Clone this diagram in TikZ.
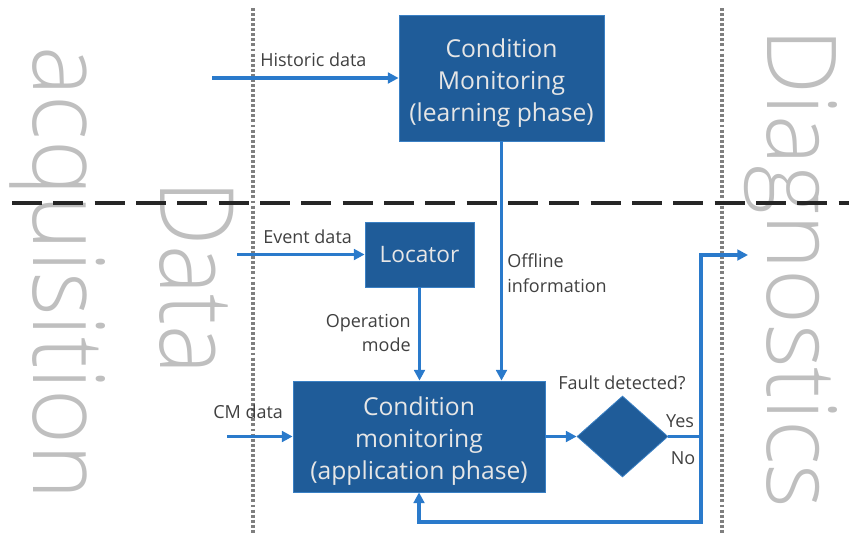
\documentclass[tikz,border=0pt]{standalone}
\usepackage{fontspec}
\setmainfont{Open Sans}
% thin face for the large section titles, with fallbacks
\IfFontExistsTF{Open Sans Light}{\newfontfamily\thinfont{Open Sans Light}}{%
  \IfFontExistsTF{Lato Light}{\newfontfamily\thinfont{Lato Light}}{%
    \IfFontExistsTF{Fira Sans Light}{\newfontfamily\thinfont{Fira Sans Light}}{%
      \IfFontExistsTF{Noto Sans Light}{\newfontfamily\thinfont{Noto Sans Light}}{%
        \newfontfamily\thinfont{Open Sans}}}}}
\usetikzlibrary{arrows.meta,shapes.geometric}
\definecolor{boxblue}{HTML}{1F5C99}
\definecolor{boxedge}{HTML}{3A80C4}
\definecolor{flowblue}{HTML}{2A7ACB}
\definecolor{labelgray}{HTML}{404040}
\definecolor{bandgray}{HTML}{BFBFBF}
\definecolor{guidegray}{HTML}{7F7F7F}
\definecolor{boxtext}{HTML}{E6E6E6}

% centred multi-line block text, lowered a little inside its box
\newcommand{\blocktext}[1]{\raisebox{-3.5pt}[\height][\depth]{\begin{tabular}{@{}c@{}}#1\end{tabular}}}

\begin{document}
\begin{tikzpicture}[x=0.75pt,y=-0.75pt,
  band/.style={text=bandgray, inner sep=0pt, anchor=base west, rotate=-90,
    font=\thinfont\fontsize{72}{76}\selectfont},
  guide/.style={draw=guidegray, line width=2.4pt, dash pattern=on 2.2pt off 1.6pt},
  divider/.style={draw=black!85, line width=3.2pt, dash pattern=on 22.5pt off 8.5pt},
  block/.style={fill=boxblue, draw=boxedge, line width=0.6pt, text=boxtext,
    align=center, inner sep=0pt, font=\fontsize{18.5}{24}\selectfont},
  decision/.style={diamond, fill=boxblue, draw=boxedge, line width=0.6pt, inner sep=0pt},
  flow/.style={draw=flowblue, line width=2.6pt,
    -{Triangle[length=8pt,width=8pt]}},
  link/.style={draw=flowblue, line width=2.6pt},
  lbl/.style={text=labelgray, inner sep=0pt, font=\fontsize{13.5}{18.5}\selectfont}
]
\useasboundingbox (0,0) rectangle (849,533);

% large section titles
\node[band] (acq) at (33,46) {\resizebox{340pt}{54pt}{acquisition}};
\node[band] (dat) at (160,180) {\resizebox{146pt}{55pt}{Data}};
\node[band] (dia-title) at (767,28) {\resizebox{360pt}{52.5pt}{Diagnostics}};

% section guides
\draw[guide] (253,8) -- (253,533);
\draw[guide] (722,8) -- (722,533);
\draw[divider] (12,203) -- (849,203);

% blocks
\node[block, minimum width=153.75pt, minimum height=94.5pt] (cml) at (501.5,78)
  {\blocktext{Condition\\Monitoring\\(learning phase)}};
\node[block, minimum width=81.75pt, minimum height=48.75pt,
  font=\fontsize{17}{20}\selectfont] (loc) at (419.5,254.5) {Locator};
\node[block, minimum width=189pt, minimum height=83.25pt] (cma) at (419,436.5)
  {\blocktext{Condition\\monitoring\\(application phase)}};
\node[decision, minimum width=68.25pt, minimum height=60.75pt] (fault) at (622.5,436.5) {};

% free ends of the flows
\coordinate (hist) at (212,78);
\coordinate (evt) at (237,254.5);
\coordinate (cmd) at (227,436.5);
\coordinate (split) at (701,436.5);
\coordinate (diag) at (748,255);
\coordinate (back) at (701,522);

% flows
\draw[flow] (hist) -- (cml.west);
\draw[flow] (evt) -- (loc.west);
\draw[flow] (cmd) -- (cma.west);
\draw[flow] (cml.south) -- (cml.south |- cma.north);
\draw[flow] (loc.south) -- (loc.south |- cma.north);
\draw[flow] (cma.east) -- (fault.west);
\draw[link] (fault.east) -- (split);
\draw[flow] (split) |- (diag);
\draw[flow] (split) -- (back) -| (cma.south);

% labels
\node[lbl, anchor=base west] (l-hist) at (260,66) {Historic data};
\node[lbl, anchor=base west] (l-evt) at (263,243) {Event data};
\node[lbl, anchor=base west] (l-cm) at (213,418) {CM data};
\node[lbl, anchor=east, align=right] (l-op) at (411,333) {Operation\\mode};
\node[lbl, anchor=west, align=left] (l-off) at (507,273) {Offline\\information};
\node[lbl] (l-fault) at (622,383) {Fault detected?};
\node[lbl] (l-yes) at (680,421) {Yes};
\node[lbl] (l-no) at (683,458) {No};
\end{tikzpicture}
\end{document}
